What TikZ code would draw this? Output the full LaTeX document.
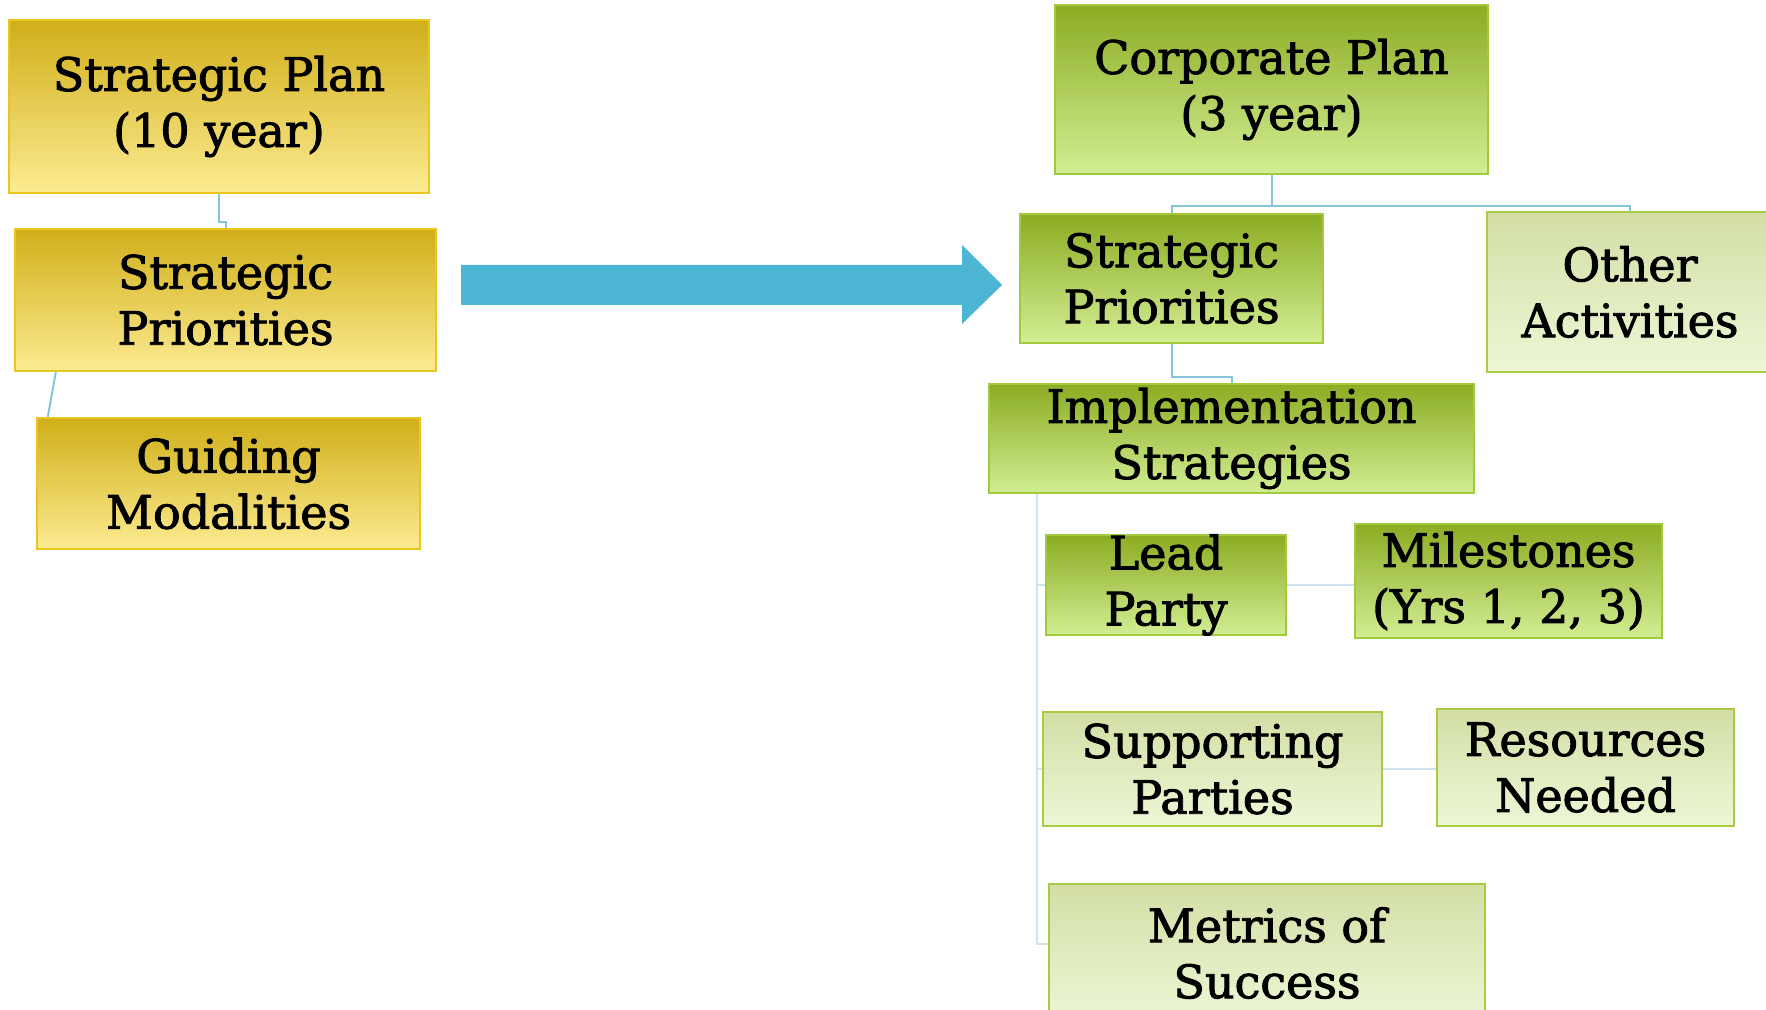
\documentclass[tikz,border=0pt]{standalone}
\usepackage{fontspec}
\setmainfont{DejaVu Serif}
\newfontfamily\boxfont{DejaVu Serif}[FakeBold=2]
\usetikzlibrary{fit,calc}
\definecolor{goldtop}{HTML}{CBA600}
\definecolor{goldbot}{HTML}{FCE985}
\definecolor{goldline}{HTML}{EBC520}
\definecolor{dgtop}{HTML}{7FA30A}
\definecolor{dgbot}{HTML}{CDEC88}
\definecolor{dgline}{HTML}{A3C93E}
\definecolor{lgtop}{HTML}{CEDB9C}
\definecolor{lgbot}{HTML}{EBF6D2}
\definecolor{lgline}{HTML}{A9CB43}
\definecolor{connblue}{HTML}{86C5DC}
\definecolor{connpale}{HTML}{CDE2EE}
\definecolor{arrowblue}{HTML}{4BB5D3}
\pgfdeclarelayer{bg}
\pgfsetlayers{bg,main}
\newcommand\mybox[7]{%
  \node[#2, fit={(#3,#4) (#5,#6)}] (#1) {};
  \node[lbl] (#1-t) at (#1.center) {#7};}
\begin{document}
\begin{tikzpicture}[x=0.5pt,y=-0.5pt,
  box/.style={inner sep=0pt, line width=1.2pt, fill opacity=0.9},
  gold/.style={box, draw=goldline, top color=goldtop, bottom color=goldbot},
  dgreen/.style={box, draw=dgline, top color=dgtop, bottom color=dgbot},
  lgreen/.style={box, draw=lgline, top color=lgtop, bottom color=lgbot},
  lbl/.style={align=center, font=\boxfont\fontsize{23}{28}\selectfont, inner sep=0pt, text=black},
  conn/.style={draw=connblue, line width=1pt},
  trunk/.style={draw=connpale, line width=1pt}]
\useasboundingbox (0,0) rectangle (1766,1010);
\clip (0,0) rectangle (1766,1010);

% left tree
\mybox{sp}{gold}{9}{20}{429}{193}{Strategic Plan\\(10 year)}
\mybox{spl}{gold}{15}{229}{436}{371}{Strategic\\Priorities}
\mybox{gm}{gold}{37}{418}{420}{549}{Guiding\\Modalities}

% right tree
\mybox{cp}{dgreen}{1055}{5}{1488}{174}{Corporate Plan\\(3 year)}
\mybox{spr}{dgreen}{1020}{214}{1323}{343}{Strategic\\Priorities}
\mybox{oa}{lgreen}{1487}{212}{1773}{372}{Other\\Activities}
\mybox{impl}{dgreen}{989}{384}{1474}{493}{Implementation\\Strategies}
\mybox{lp}{dgreen}{1046}{535}{1286}{635}{Lead\\Party}
\mybox{ms}{dgreen}{1355}{524}{1662}{638}{Milestones\\(Yrs 1, 2, 3)}
\mybox{supp}{lgreen}{1043}{712}{1382}{826}{Supporting\\Parties}
\mybox{rn}{lgreen}{1437}{709}{1734}{826}{Resources\\Needed}
\mybox{met}{lgreen}{1049}{884}{1485}{1022}{Metrics of\\Success}

% big arrow
\fill[arrowblue] (461,265) -- (962,265) -- (962,245) -- (1002,285) -- (962,324) -- (962,305) -- (461,305) -- cycle;

\begin{pgfonlayer}{bg}
  \draw[conn] (sp.south) -- ++(0,28) -| (spl.north);
  \draw[conn] ([xshift=21pt]spl.south west) -- ([xshift=6pt]gm.north west);
  \draw[conn] (cp.south) -- ++(0,31) coordinate (j1);
  \draw[conn] (j1) -| (spr.north);
  \draw[conn] (j1) -| (oa.north);
  \draw[conn] (spr.south) -- ++(0,33) -| (impl.north);
  \coordinate (t) at ([xshift=24.5pt]impl.south west);
  \draw[trunk] (t) |- ([yshift=4.5pt]met.west);
  \draw[trunk] (t |- lp.west) -- (lp.west);
  \draw[trunk] (lp.east) -- (lp.east -| ms.west);
  \draw[trunk] (t |- supp.west) -- (supp.west);
  \draw[trunk] (supp.west) -- (supp.west -| rn.west);
\end{pgfonlayer}
\end{tikzpicture}
\end{document}
